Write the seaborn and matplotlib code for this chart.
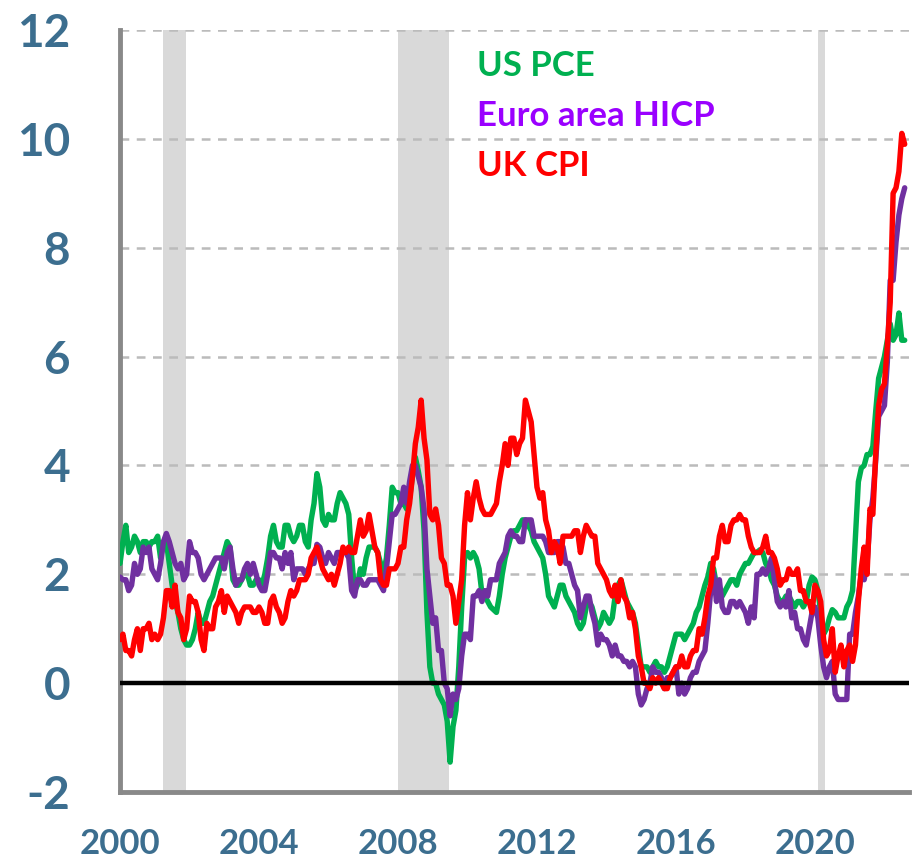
import numpy as np
import pandas as pd
import matplotlib.pyplot as plt
import seaborn as sns

# monthly year-on-year inflation, Jan 2000 - Aug 2022 (%)
us_pce = [
    2.2, 2.6, 2.9, 2.4, 2.5, 2.7, 2.6, 2.4, 2.6, 2.6, 2.5, 2.6,    # 2000
    2.6, 2.7, 2.3, 2.6, 2.6, 2.2, 1.8, 1.5, 1.3, 1.0, 0.8, 0.7,    # 2001
    0.7, 0.8, 1.0, 1.3, 1.1, 1.1, 1.3, 1.5, 1.6, 1.8, 2.0, 2.2,    # 2002
    2.4, 2.6, 2.5, 1.9, 1.8, 1.8, 1.9, 2.0, 2.0, 1.8, 1.8, 1.9,    # 2003
    1.9, 1.8, 2.0, 2.3, 2.7, 2.9, 2.6, 2.5, 2.5, 2.9, 2.9, 2.7,    # 2004
    2.6, 2.7, 2.9, 2.9, 2.6, 2.5, 3.0, 3.3, 3.85, 3.6, 3.0, 2.9,   # 2005
    3.1, 3.0, 3.0, 3.3, 3.5, 3.4, 3.3, 3.1, 2.3, 1.7, 1.8, 2.1,    # 2006
    2.0, 2.3, 2.5, 2.5, 2.5, 2.4, 2.2, 2.0, 2.3, 2.9, 3.6, 3.5,    # 2007
    3.5, 3.3, 3.3, 3.2, 3.4, 3.8, 4.15, 3.9, 3.6, 2.8, 1.3, 0.3,   # 2008
    0.0, 0.0, -0.2, -0.3, -0.4, -0.7, -1.45, -0.8, -0.5, 0.3, 1.4, 2.3,  # 2009
    2.4, 2.3, 2.4, 2.3, 2.1, 1.65, 1.6, 1.5, 1.4, 1.35, 1.3, 1.6,  # 2010
    2.0, 2.3, 2.5, 2.7, 2.8, 2.8, 2.9, 3.0, 3.0, 2.9, 2.8, 2.6,    # 2011
    2.5, 2.4, 2.3, 2.0, 1.6, 1.5, 1.4, 1.6, 1.8, 1.8, 1.6, 1.5,    # 2012
    1.4, 1.3, 1.1, 1.0, 1.1, 1.4, 1.5, 1.4, 1.2, 1.0, 1.1, 1.3,    # 2013
    1.2, 1.1, 1.2, 1.6, 1.8, 1.9, 1.7, 1.5, 1.4, 1.3, 1.1, 0.7,    # 2014
    0.3, 0.3, 0.3, 0.2, 0.3, 0.4, 0.3, 0.3, 0.2, 0.3, 0.5, 0.7,    # 2015
    0.9, 0.9, 0.9, 0.8, 0.9, 1.0, 1.1, 1.3, 1.4, 1.6, 1.8, 1.95,   # 2016
    2.2, 2.1, 1.8, 1.6, 1.6, 1.7, 1.8, 1.9, 1.9, 1.8, 2.0, 2.1,    # 2017
    2.2, 2.2, 2.3, 2.4, 2.4, 2.45, 2.4, 2.2, 2.1, 1.9, 1.8, 1.6,   # 2018
    1.5, 1.5, 1.6, 1.6, 1.5, 1.4, 1.5, 1.5, 1.4, 1.5, 1.8, 1.95,   # 2019
    1.9, 1.7, 1.3, 0.9, 1.0, 1.2, 1.35, 1.3, 1.2, 1.2, 1.2, 1.4,   # 2020
    1.5, 1.7, 2.7, 3.7, 3.95, 4.0, 4.2, 4.2, 4.35, 5.0, 5.6, 5.8,  # 2021
    6.0, 6.3, 6.6, 6.3, 6.4, 6.8, 6.3, 6.3,                        # 2022
]

euro_hicp = [
    1.95, 1.9, 1.9, 1.7, 1.8, 2.2, 2.0, 2.1, 2.5, 2.4, 2.5, 2.1,   # 2000
    2.0, 1.9, 2.2, 2.6, 2.75, 2.6, 2.4, 2.2, 2.1, 2.2, 1.9, 2.0,   # 2001
    2.6, 2.4, 2.4, 2.3, 2.0, 1.9, 2.0, 2.1, 2.2, 2.3, 2.3, 2.3,    # 2002
    2.1, 2.4, 2.5, 2.1, 1.8, 1.9, 1.9, 2.1, 2.2, 2.0, 2.2, 2.0,    # 2003
    1.8, 1.7, 1.7, 2.0, 2.4, 2.4, 2.3, 2.3, 2.1, 2.4, 2.2, 2.4,    # 2004
    1.9, 2.1, 2.1, 2.1, 2.0, 2.1, 2.2, 2.2, 2.55, 2.5, 2.3, 2.2,   # 2005
    2.4, 2.3, 2.2, 2.4, 2.4, 2.4, 2.4, 2.3, 1.7, 1.6, 1.9, 1.9,    # 2006
    1.8, 1.8, 1.9, 1.9, 1.9, 1.9, 1.8, 1.7, 2.1, 2.6, 3.1, 3.1,    # 2007
    3.2, 3.3, 3.6, 3.3, 3.7, 4.0, 4.0, 3.8, 3.6, 3.2, 2.1, 1.6,    # 2008
    1.1, 1.2, 0.6, 0.6, 0.0, -0.1, -0.6, -0.2, -0.3, -0.1, 0.5, 0.9,  # 2009
    0.9, 0.8, 1.6, 1.6, 1.7, 1.5, 1.7, 1.6, 1.9, 1.9, 1.9, 2.2,    # 2010
    2.3, 2.4, 2.7, 2.8, 2.7, 2.7, 2.6, 2.6, 3.0, 3.0, 3.0, 2.7,    # 2011
    2.7, 2.7, 2.7, 2.6, 2.4, 2.4, 2.4, 2.6, 2.6, 2.5, 2.2, 2.2,    # 2012
    2.0, 1.8, 1.7, 1.2, 1.4, 1.6, 1.6, 1.3, 1.1, 0.7, 0.9, 0.8,    # 2013
    0.8, 0.7, 0.5, 0.7, 0.5, 0.5, 0.4, 0.4, 0.3, 0.4, 0.3, -0.2,   # 2014
    -0.4, -0.3, -0.1, 0.0, 0.3, 0.2, 0.2, 0.1, -0.1, 0.1, 0.1, 0.2,  # 2015
    0.3, -0.2, 0.0, -0.2, -0.1, 0.1, 0.2, 0.2, 0.4, 0.5, 0.6, 1.1,   # 2016
    1.7, 2.0, 1.5, 1.9, 1.4, 1.3, 1.3, 1.5, 1.5, 1.4, 1.5, 1.4,    # 2017
    1.3, 1.1, 1.4, 1.2, 2.0, 2.0, 2.1, 2.0, 2.1, 2.3, 1.9, 1.5,    # 2018
    1.4, 1.5, 1.4, 1.7, 1.2, 1.3, 1.0, 1.0, 0.8, 0.7, 1.0, 1.3,    # 2019
    1.4, 1.2, 0.7, 0.3, 0.1, 0.3, 0.4, -0.2, -0.3, -0.3, -0.3, -0.3,  # 2020
    0.9, 0.9, 1.3, 1.6, 2.0, 1.9, 2.2, 3.0, 3.4, 4.1, 4.9, 5.0,    # 2021
    5.1, 5.9, 7.4, 7.4, 8.1, 8.6, 8.9, 9.1,                        # 2022
]

uk_cpi = [
    0.8, 0.9, 0.6, 0.6, 0.5, 0.8, 1.0, 0.6, 1.0, 1.0, 1.1, 0.8,    # 2000
    0.9, 0.8, 0.9, 1.2, 1.7, 1.7, 1.4, 1.8, 1.3, 1.2, 0.8, 1.0,    # 2001
    1.6, 1.5, 1.5, 1.3, 0.8, 0.6, 1.1, 1.0, 1.0, 1.4, 1.5, 1.7,    # 2002
    1.3, 1.6, 1.5, 1.4, 1.3, 1.1, 1.3, 1.4, 1.4, 1.4, 1.3, 1.3,    # 2003
    1.4, 1.3, 1.1, 1.1, 1.5, 1.6, 1.4, 1.3, 1.1, 1.2, 1.5, 1.7,    # 2004
    1.6, 1.7, 1.9, 1.9, 1.9, 2.0, 2.3, 2.4, 2.5, 2.3, 2.1, 2.0,    # 2005
    1.9, 2.0, 1.8, 2.0, 2.2, 2.5, 2.4, 2.5, 2.4, 2.4, 2.7, 3.0,    # 2006
    2.7, 2.8, 3.1, 2.8, 2.5, 2.4, 1.9, 1.8, 1.8, 2.1, 2.1, 2.1,    # 2007
    2.2, 2.5, 2.5, 3.0, 3.3, 3.8, 4.4, 4.7, 5.2, 4.5, 4.1, 3.1,    # 2008
    3.0, 3.2, 2.9, 2.3, 2.2, 1.8, 1.8, 1.6, 1.1, 1.5, 1.9, 2.9,    # 2009
    3.5, 3.0, 3.4, 3.7, 3.4, 3.2, 3.1, 3.1, 3.1, 3.2, 3.3, 3.7,    # 2010
    4.0, 4.4, 4.0, 4.5, 4.5, 4.2, 4.4, 4.5, 5.2, 5.0, 4.8, 4.2,    # 2011
    3.6, 3.4, 3.5, 3.0, 2.8, 2.4, 2.6, 2.5, 2.2, 2.7, 2.7, 2.7,    # 2012
    2.7, 2.8, 2.8, 2.4, 2.7, 2.9, 2.8, 2.7, 2.7, 2.2, 2.1, 2.0,    # 2013
    1.9, 1.7, 1.6, 1.8, 1.5, 1.9, 1.6, 1.5, 1.2, 1.3, 1.0, 0.5,    # 2014
    0.3, 0.0, 0.0, -0.1, 0.1, 0.0, 0.1, 0.0, -0.1, -0.1, 0.1, 0.2,  # 2015
    0.3, 0.3, 0.5, 0.3, 0.3, 0.5, 0.6, 0.6, 1.0, 0.9, 1.2, 1.6,    # 2016
    1.8, 2.3, 2.3, 2.7, 2.9, 2.6, 2.6, 2.9, 3.0, 3.0, 3.1, 3.0,    # 2017
    3.0, 2.7, 2.5, 2.4, 2.4, 2.4, 2.5, 2.7, 2.4, 2.4, 2.3, 2.1,    # 2018
    1.8, 1.9, 1.9, 2.1, 2.0, 2.0, 2.1, 1.7, 1.7, 1.5, 1.5, 1.3,    # 2019
    1.8, 1.7, 1.5, 0.8, 0.5, 0.6, 1.0, 0.2, 0.5, 0.7, 0.3, 0.6,    # 2020
    0.7, 0.4, 0.7, 1.5, 2.1, 2.5, 2.0, 3.2, 3.1, 4.2, 5.1, 5.4,    # 2021
    5.5, 6.2, 7.0, 9.0, 9.1, 9.4, 10.1, 9.9,                       # 2022
]

series_names = ["US PCE", "Euro area HICP", "UK CPI"]
line_colors = ["#00B050", "#7030A0", "#FF0000"]
label_colors = ["#00B050", "#9A00FF", "#FF0000"]
recessions = [(2001.25, 2001.9), (2008.0, 2009.47), (2020.08, 2020.3)]

frames = []
for name, vals in zip(series_names, [us_pce, euro_hicp, uk_cpi]):
    frames.append(pd.DataFrame({"year": 2000 + np.arange(len(vals)) / 12,
                                "value": vals, "series": name}))
df = pd.concat(frames, ignore_index=True)

sns.set_theme(style="white")
plt.rcParams["font.family"] = ["Lato", "DejaVu Sans"]
plt.rcParams["font.weight"] = "bold"
plt.rcParams["axes.unicode_minus"] = False

fig = plt.figure(figsize=(9.19, 8.61), dpi=100)
ax = fig.add_axes([0.1306, 0.0801, 0.859, 0.8851])

for start, end in recessions:
    ax.axvspan(start, end, color="#D9D9D9", lw=0, zorder=0)

sns.lineplot(data=df, x="year", y="value", hue="series", hue_order=series_names,
             palette=line_colors, linewidth=3.9, legend=False, ax=ax, zorder=3)

ax.axhline(0, color="black", lw=3.2, zorder=4, solid_capstyle="round")
ax.set_xlim(2000, 2022.72)
ax.set_ylim(-2, 12)
ax.set_yticks(range(-2, 13, 2))
ax.set_xticks(range(2000, 2023))
ax.set_xticklabels([str(y) if y % 4 == 0 else "" for y in range(2000, 2023)])
ax.grid(axis="y", color="#BBBBBB", lw=1.8, ls=(0, (3.5, 3)), zorder=1)
ax.grid(axis="x", visible=False)
ax.set_xlabel("")
ax.set_ylabel("")

for side in ["top", "right"]:
    ax.spines[side].set_visible(False)
for side in ["left", "bottom"]:
    ax.spines[side].set_color("#898989")
    ax.spines[side].set_linewidth(3.5)

ax.tick_params(axis="y", direction="in", length=12, width=3.5, color="#898989",
               pad=36, labelsize=33, labelcolor="#3C6E8F")
ax.tick_params(axis="x", direction="out", length=10, width=3.5, color="#898989",
               pad=16, labelsize=25, labelcolor="#3C6E8F")
for lab in ax.get_xticklabels() + ax.get_yticklabels():
    lab.set_fontweight("bold")

for i, (name, col) in enumerate(zip(series_names, label_colors)):
    fig.text(477 / 919, 1 - (66 + 50 * i) / 861, name, color=col, fontsize=25,
             fontweight="bold", va="center", ha="left")

fig.savefig("out.png", dpi=100)
